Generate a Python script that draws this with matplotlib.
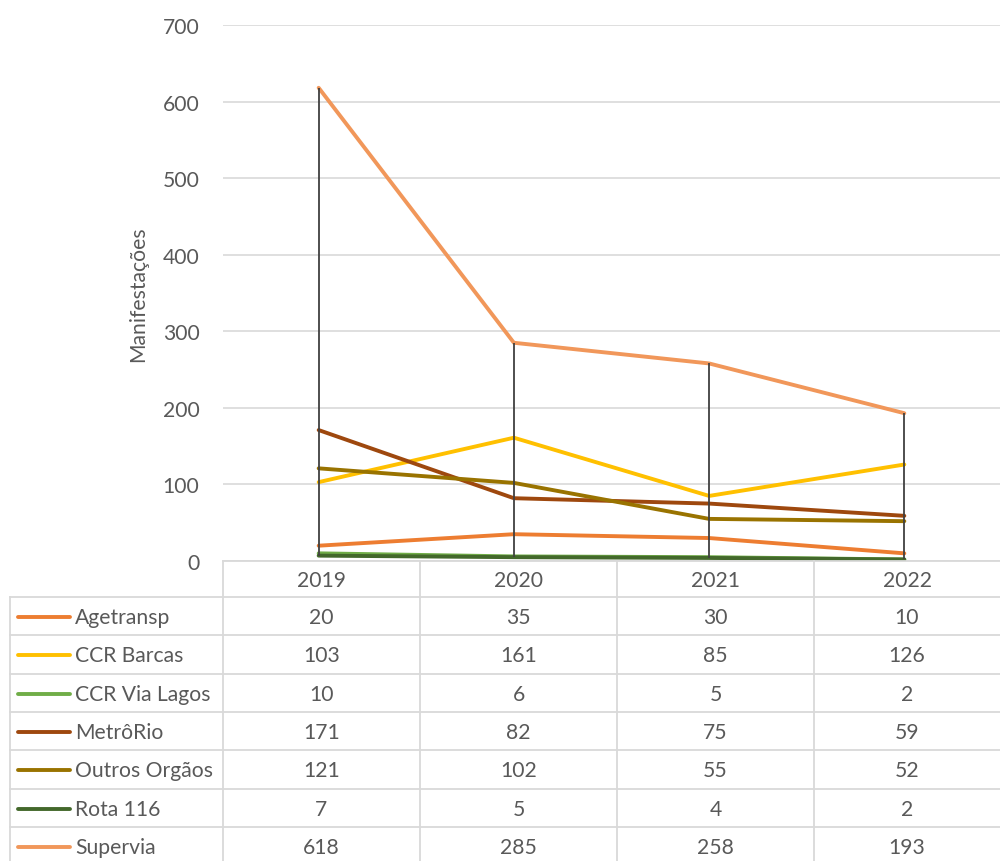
import numpy as np
import matplotlib.pyplot as plt
from matplotlib.lines import Line2D

plt.rcParams['font.family'] = ['Lato', 'DejaVu Sans']

anos = ['2019', '2020', '2021', '2022']
series = ['Agetransp', 'CCR Barcas', 'CCR Via Lagos', 'MetrôRio',
          'Outros Orgãos', 'Rota 116', 'Supervia']
agetransp = [20, 35, 30, 10]
ccr_barcas = [103, 161, 85, 126]
ccr_via_lagos = [10, 6, 5, 2]
metrorio = [171, 82, 75, 59]
outros = [121, 102, 55, 52]
rota116 = [7, 5, 4, 2]
supervia = [618, 285, 258, 193]
valores = [agetransp, ccr_barcas, ccr_via_lagos, metrorio, outros, rota116, supervia]
cores = ['#ED7D31', '#FFC000', '#70AD47', '#9E480E', '#997300', '#43682B', '#F1975A']

FS = 15.2
W, H = 1000, 862
fig = plt.figure(figsize=(10, 8.62), dpi=100)

# plot area in pixels
x0, x1 = 223, 1000
y_top, y_zero = 26, 562
ax = fig.add_axes([x0 / W, 1 - y_zero / H, (x1 - x0) / W, (y_zero - y_top) / H])

x = np.arange(len(anos))
dados = np.array(valores)
# high-low lines
ax.vlines(x, dados.min(axis=0), dados.max(axis=0), color='#404040', lw=1.3, zorder=3)
for nome, v, c in zip(series, valores, cores):
    ax.plot(x, v, color=c, lw=2.8, label=nome, zorder=2, solid_capstyle='round')

ax.set_xlim(-0.49, len(anos) - 0.51)
ax.set_ylim(0, 700)
ax.set_yticks(range(0, 701, 100))
ax.tick_params(axis='y', length=0, pad=17, labelsize=FS, labelcolor='#595959')
ax.set_xticks([])
ax.grid(axis='y', color='#D9D9D9', lw=1.2)
ax.set_axisbelow(True)
for s in ax.spines.values():
    s.set_visible(False)
ax.set_ylabel('Manifestações', fontsize=FS, color='#595959', labelpad=10)

# data table
gc = '#D9D9D9'
tc = '#595959'
col_edges = [223, 420, 617, 814, 1000]
header_top, header_bot = 562, 598
row_h = 38.3
n_rows = len(series)
bottom = header_bot + row_h * n_rows

def fx(px):
    return px / W

def fy(py):
    return 1 - py / H

def hline(xa, xb, yy):
    fig.add_artist(Line2D([fx(xa), fx(xb)], [fy(yy), fy(yy)], color=gc, lw=1.3))

def vline(xx, ya, yb):
    fig.add_artist(Line2D([fx(xx), fx(xx)], [fy(ya), fy(yb)], color=gc, lw=1.3))

hline(223, 1000, header_top)
for i in range(n_rows + 1):
    hline(10, 1000, header_bot + i * row_h)
vline(10, header_bot, bottom + 5)
for cx in col_edges[:-1]:
    vline(cx, header_top, bottom + 5)

for j, a in enumerate(anos):
    cxm = (col_edges[j] + col_edges[j + 1]) / 2
    fig.text(fx(cxm), fy((header_top + header_bot) / 2 + 1), a, ha='center', va='center',
             fontsize=FS, color=tc)

for i, (nome, v, c) in enumerate(zip(series, valores, cores)):
    yc = header_bot + (i + 0.5) * row_h + 1
    fig.add_artist(Line2D([fx(18), fx(70)], [fy(yc), fy(yc)], color=c, lw=2.8,
                          solid_capstyle='round'))
    fig.text(fx(75), fy(yc), nome, ha='left', va='center', fontsize=FS, color=tc)
    for j, val in enumerate(v):
        cxm = (col_edges[j] + col_edges[j + 1]) / 2
        fig.text(fx(cxm), fy(yc), str(val), ha='center', va='center', fontsize=FS, color=tc)

fig.savefig('out.png', dpi=100, facecolor='white')
